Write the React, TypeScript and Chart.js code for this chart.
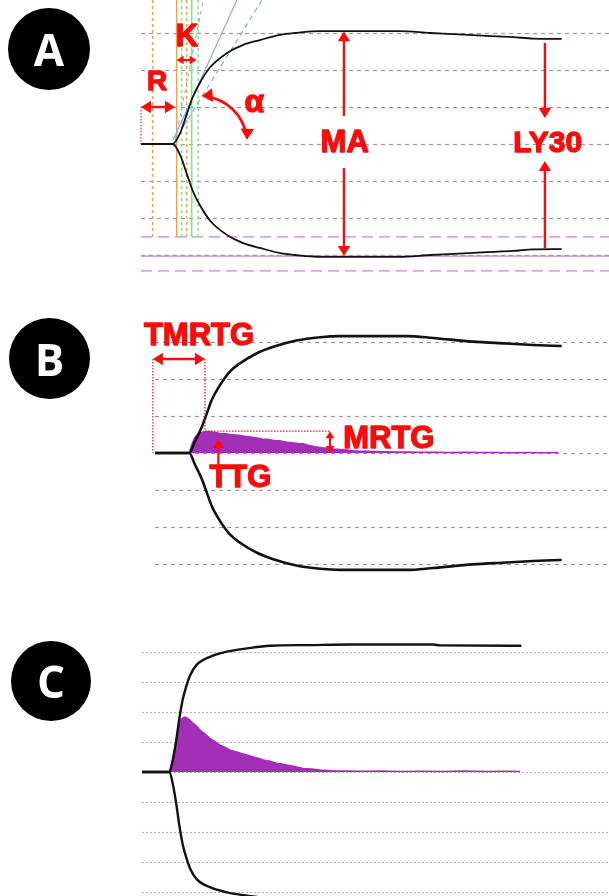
import { useEffect, useRef } from "react";
import { Chart, registerables } from "chart.js";

Chart.register(...registerables);

// ---------------- data (time in minutes, amplitude in mm) ----------------
// Panel A – TEG trace
const A_TIME = [0, 4.5, 5.6, 6.6, 7.4, 8.4, 9.9, 12.3, 14.6, 17.0, 19.9, 22.0, 25.6, 37.0, 41.3, 44.6, 49.4, 53.1, 56.0, 60.1];
const A_AMP = [0, 0, 3.0, 8.4, 12.7, 16.5, 20.8, 24.6, 26.8, 28.1, 29.5, 30.0, 30.5, 30.5, 30.0, 29.7, 29.2, 28.9, 28.5, 28.4];
const A_GRID = [-30, -20, -10, 0, 10, 20, 30];
const A_PINK_DASHED = [-25.1, -34.3];
const A_PINK_SOLID = [-30.3];
const A_R_DOTTED = [1.67, 6.52];
const A_R_SOLID = [5.1];
const A_K_DOTTED = [5.81, 8.19];
const A_K_SOLID = [7.24];

// Panel B – TEG trace + thrombin generation
const B_TIME = [0, 4.9, 5.7, 6.7, 7.4, 8.1, 9.3, 10.7, 12.1, 14.5, 16.9, 20.2, 23.6, 26.4, 36.0, 39.7, 45.4, 50.2, 54.0, 58.1];
const B_AMP = [0, 0, 3.1, 7.1, 10.7, 14.3, 18.4, 22.0, 24.2, 26.9, 28.7, 30.4, 31.3, 31.6, 31.6, 31.1, 30.1, 29.6, 29.2, 28.9];
const B_TG_TIME = [4.9, 5.3, 5.7, 6.2, 6.9, 7.6, 8.4, 9.3, 10.2, 11.0, 11.9, 12.8, 13.6, 14.4, 15.3, 16.1, 17.0, 17.8, 18.7, 19.5, 20.4, 21.2, 22.1, 22.9, 23.8, 24.6, 25.5, 26.4, 27.4, 28.3, 29.4, 30.4, 31.6, 33.0, 34.5, 36.2, 38.0, 40.0, 42.1, 44.3, 46.5, 48.8, 51.0, 53.3, 55.5, 57.6];
const B_TG = [0, 2.5, 4.2, 5.2, 5.7, 5.8, 5.6, 5.3, 5.2, 4.9, 4.8, 4.5, 4.3, 4.1, 3.8, 3.7, 3.4, 3.3, 3.0, 2.8, 2.6, 2.5, 2.0, 1.7, 1.45, 1.3, 1.1, 0.95, 0.8, 0.6, 0.5, 0.45, 0.4, 0.35, 0.3, 0.25, 0.2, 0.22, 0.15, 0.18, 0.12, 0.15, 0.1, 0.14, 0.1, 0.12];
const B_GRID = [-30, -20, -10, 0, 10, 20, 30];

// Panel C – TEG trace + thrombin generation
const C_TIME = [0, 3.9, 4.4, 4.9, 5.3, 5.8, 6.3, 6.9, 7.8, 9.7, 12.1, 15.0, 18.3, 23.5, 29.7, 41.6, 42.6, 54.2];
const C_AMP = [0, 0, 4.0, 10.7, 17.3, 24.0, 28.4, 32.3, 35.7, 38.4, 40.1, 41.2, 42.1, 42.3, 42.5, 42.5, 42.2, 42.1];
const C_TG_TIME = [3.9, 4.4, 4.9, 5.3, 5.6, 5.9, 6.2, 6.5, 6.9, 7.3, 7.8, 8.3, 8.9, 9.7, 10.4, 11.1, 11.9, 12.6, 13.4, 14.2, 15.0, 15.8, 16.6, 17.3, 18.3, 19.2, 20.0, 20.7, 21.8, 23.0, 24.2, 25.4, 26.6, 27.8, 29.5, 31.5, 34.0, 37.0, 40.0, 43.0, 46.0, 49.0, 52.0, 54.0];
const C_TG = [0, 4.0, 10.7, 15.0, 17.5, 18.2, 18.3, 17.9, 17.2, 16.2, 15.3, 14.0, 12.9, 11.2, 10.2, 9.0, 8.2, 7.3, 6.8, 6.2, 5.7, 5.1, 4.6, 4.0, 3.6, 2.9, 2.7, 2.3, 1.8, 1.2, 1.0, 0.7, 0.5, 0.3, 0.35, 0.25, 0.3, 0.2, 0.25, 0.15, 0.3, 0.2, 0.25, 0.2];
const C_GRID = [-40, -30, -20, -10, 0, 10, 20, 30, 40];

// ---------------- styles ----------------
const RED = "#ff0a0a";
const PURPLE = "#a22fb5";
const GRID = "#9a9a9a";
const PINK = "#dca0ec";
const ORANGE = "#f7a43a";
const GREEN = "#86e486";
const BLUE = "#80a8f5";
const FONT = "'Liberation Sans', Arial, sans-serif";

// ---------------- drawing helpers ----------------
function line(ctx: any, x1: number, y1: number, x2: number, y2: number, color: string, dash: number[], width: number) {
  ctx.save();
  ctx.strokeStyle = color;
  ctx.setLineDash(dash);
  ctx.lineWidth = width;
  ctx.beginPath();
  ctx.moveTo(x1, y1);
  ctx.lineTo(x2, y2);
  ctx.stroke();
  ctx.restore();
}

function head(ctx: any, x: number, y: number, ang: number, size: number) {
  ctx.save();
  ctx.translate(x, y);
  ctx.rotate(ang);
  ctx.beginPath();
  ctx.moveTo(0, 0);
  ctx.lineTo(-size, -size * 0.62);
  ctx.lineTo(-size, size * 0.62);
  ctx.closePath();
  ctx.fill();
  ctx.restore();
}

function arrow(ctx: any, x1: number, y1: number, x2: number, y2: number, hs: boolean, he: boolean, size = 10, width = 2.4) {
  const ang = Math.atan2(y2 - y1, x2 - x1);
  const c = Math.cos(ang), s = Math.sin(ang);
  const sx = hs ? x1 + c * size * 0.8 : x1;
  const sy = hs ? y1 + s * size * 0.8 : y1;
  const ex = he ? x2 - c * size * 0.8 : x2;
  const ey = he ? y2 - s * size * 0.8 : y2;
  ctx.save();
  ctx.strokeStyle = RED;
  ctx.fillStyle = RED;
  ctx.lineWidth = width;
  ctx.setLineDash([]);
  ctx.beginPath();
  ctx.moveTo(sx, sy);
  ctx.lineTo(ex, ey);
  ctx.stroke();
  if (he) head(ctx, x2, y2, ang, size);
  if (hs) head(ctx, x1, y1, ang + Math.PI, size);
  ctx.restore();
}

function label(ctx: any, text: string, x: number, y: number, size: number) {
  ctx.save();
  ctx.fillStyle = RED;
  ctx.strokeStyle = RED;
  ctx.lineWidth = 1.3;
  ctx.lineJoin = "round";
  ctx.font = `bold ${size}px ${FONT}`;
  ctx.textAlign = "center";
  ctx.textBaseline = "alphabetic";
  ctx.fillText(text, x, y);
  ctx.strokeText(text, x, y);
  ctx.restore();
}

function grid(chart: any, values: number[], dash: number[], color: string, width: number) {
  const { ctx, chartArea: ca, scales } = chart;
  values.forEach((v) => {
    const py = Math.round(scales.y.getPixelForValue(v)) + 0.5;
    line(ctx, ca.left, py, ca.right, py, color, dash, width);
  });
}

// ---------------- plugins ----------------
const pluginA = {
  id: "panelA",
  beforeDatasetsDraw(chart: any) {
    const { ctx, chartArea: ca, scales } = chart;
    const X = (t: number) => scales.x.getPixelForValue(t);
    const Y = (v: number) => scales.y.getPixelForValue(v);
    A_PINK_DASHED.forEach((v) => line(ctx, ca.left, Y(v), ca.right, Y(v), PINK, [11, 6], 1.6));
    A_PINK_SOLID.forEach((v) => line(ctx, ca.left, Y(v), ca.right, Y(v), PINK, [], 1.6));
    grid(chart, A_GRID, [4, 4], GRID, 1.2);
    const bottom = Y(-25.1);
    A_R_DOTTED.forEach((t) => line(ctx, X(t), ca.top, X(t), bottom, ORANGE, [3, 3], 1.6));
    A_R_SOLID.forEach((t) => line(ctx, X(t), ca.top, X(t), bottom, ORANGE, [], 1.6));
    A_K_DOTTED.forEach((t) => line(ctx, X(t), ca.top, X(t), bottom, GREEN, [3, 3], 1.6));
    A_K_SOLID.forEach((t) => line(ctx, X(t), ca.top, X(t), bottom, GREEN, [], 1.6));
    // alpha tangents
    line(ctx, X(4.6), Y(1.1), X(13.7), Y(38.9), BLUE, [], 1.2);
    line(ctx, X(6.0), Y(4.6), X(17.3), Y(38.9), BLUE, [5, 4], 1.2);
    line(ctx, X(4.9), Y(1.1), X(8.9), Y(38.9), BLUE, [4, 4], 1);
  },
  afterDatasetsDraw(chart: any) {
    const { ctx, scales } = chart;
    const X = (t: number) => scales.x.getPixelForValue(t);
    const Y = (v: number) => scales.y.getPixelForValue(v);
    // R
    line(ctx, X(0), Y(10), X(0), Y(0), RED, [1.5, 1.5], 1);
    arrow(ctx, X(0), Y(10), X(4.86), Y(10), true, true);
    label(ctx, "R", X(2.29), Y(14.6), 28);
    // K
    arrow(ctx, X(5.09), Y(22.7), X(7.95), Y(22.7), true, true, 7, 2);
    label(ctx, "K", X(6.57), Y(26.6), 31);
    // alpha arc
    const cx = X(8.43), cy = Y(0.27), r = 47;
    const a0 = (-88 * Math.PI) / 180, a1 = (-4 * Math.PI) / 180;
    ctx.save();
    ctx.strokeStyle = RED;
    ctx.fillStyle = RED;
    ctx.lineWidth = 2.8;
    ctx.beginPath();
    ctx.arc(cx, cy, r, a0 + 0.12, a1 - 0.12);
    ctx.stroke();
    head(ctx, cx + r * Math.cos(a0), cy + r * Math.sin(a0), a0 - Math.PI / 2 - 0.12, 11);
    head(ctx, cx + r * Math.cos(a1), cy + r * Math.sin(a1), a1 + Math.PI / 2 + 0.12, 11);
    ctx.restore();
    label(ctx, "α", X(16.2), Y(8.6), 32);
    // MA
    arrow(ctx, X(29.0), Y(7.57), X(29.0), Y(30.5), false, true);
    arrow(ctx, X(29.0), Y(-6.5), X(29.0), Y(-30.3), false, true);
    label(ctx, "MA", X(29.1), Y(-2.16), 31);
    // LY30
    arrow(ctx, X(57.7), Y(27.3), X(57.7), Y(7.0), false, true);
    arrow(ctx, X(57.7), Y(-28.1), X(57.7), Y(-4.6), false, true);
    label(ctx, "LY30", X(58.1), Y(-2.16), 30);
  },
};

const pluginB = {
  id: "panelB",
  beforeDatasetsDraw(chart: any) {
    grid(chart, B_GRID, [4, 4], GRID, 1.2);
  },
  afterDatasetsDraw(chart: any) {
    const { ctx, scales } = chart;
    const X = (t: number) => scales.x.getPixelForValue(t);
    const Y = (v: number) => scales.y.getPixelForValue(v);
    // TMRTG
    line(ctx, X(-0.3), Y(25.4), X(-0.3), Y(0), RED, [1.5, 1.5], 1.2);
    line(ctx, X(7.14), Y(25.4), X(7.14), Y(5.9), RED, [1.5, 1.5], 1.2);
    arrow(ctx, X(-0.3), Y(25.4), X(7.14), Y(25.4), true, true);
    label(ctx, "TMRTG", X(6.29), Y(29.2), 31);
    // MRTG
    line(ctx, X(7.14), Y(5.9), X(25.0), Y(5.9), RED, [1.5, 1.5], 1.2);
    arrow(ctx, X(25.0), Y(5.9), X(25.0), Y(0), true, true, 7, 2);
    label(ctx, "MRTG", X(33.4), Y(1.35), 31);
    // TTG
    arrow(ctx, X(9.05), Y(-3.5), X(9.05), Y(3.8), false, true, 9, 2.2);
    label(ctx, "TTG", X(12.2), Y(-9.2), 31);
  },
};

const pluginC = {
  id: "panelC",
  beforeDatasetsDraw(chart: any) {
    grid(chart, C_GRID, [2, 2], "#b4b4b4", 1.2);
  },
};

// ---------------- chart config builder ----------------
function buildConfig(p: any) {
  const datasets: any[] = [
    {
      data: p.time.map((t: number, i: number) => ({ x: t, y: p.amp[i] })),
      borderColor: "#111",
      borderWidth: p.width,
      pointRadius: 0,
      fill: false,
      cubicInterpolationMode: "monotone",
    },
    {
      data: p.time.map((t: number, i: number) => ({ x: t, y: -p.amp[i] })),
      borderColor: "#111",
      borderWidth: p.width,
      pointRadius: 0,
      fill: false,
      cubicInterpolationMode: "monotone",
    },
  ];
  if (p.tgTime) {
    datasets.push({
      data: p.tgTime.map((t: number, i: number) => ({ x: t, y: p.tg[i] })),
      borderColor: PURPLE,
      backgroundColor: PURPLE,
      borderWidth: 1.5,
      pointRadius: 0,
      fill: "origin",
      tension: 0,
    });
  }
  return {
    type: "line",
    data: { datasets },
    options: {
      responsive: false,
      animation: false,
      devicePixelRatio: 1,
      events: [],
      layout: { padding: { left: p.padLeft, right: 0, top: 0, bottom: 0 } },
      plugins: { legend: { display: false }, tooltip: { enabled: false } },
      scales: {
        x: { type: "linear", min: 0, max: p.xMax, display: false },
        y: { type: "linear", min: p.yMin, max: p.yMax, display: false },
      },
    },
    plugins: [p.plugin],
  };
}

function Panel({ top, height, build }: { top: number; height: number; build: () => any }) {
  const ref = useRef<HTMLCanvasElement>(null);
  useEffect(() => {
    const chart = new Chart(ref.current as HTMLCanvasElement, build());
    return () => chart.destroy();
  }, []);
  return (
    <canvas
      ref={ref}
      width={609}
      height={height}
      style={{ position: "absolute", left: 0, top, width: 609, height }}
    />
  );
}

function Badge({ letter, cx, cy, r }: { letter: string; cx: number; cy: number; r: number }) {
  return (
    <div
      style={{
        position: "absolute",
        left: cx - r,
        top: cy - r,
        width: 2 * r,
        height: 2 * r,
        borderRadius: "50%",
        background: "#000",
        color: "#fff",
        display: "flex",
        alignItems: "center",
        justifyContent: "center",
        fontFamily: "'Open Sans', Arial, sans-serif",
        fontWeight: 700,
        fontSize: 44,
        lineHeight: 1,
        zIndex: 2,
      }}
    >
      {letter}
    </div>
  );
}

export default function App() {
  return (
    <div style={{ position: "absolute", left: 0, top: 0, width: 609, height: 896, background: "#fff", overflow: "hidden" }}>
      <Panel
        top={0}
        height={288}
        build={() =>
          buildConfig({ time: A_TIME, amp: A_AMP, width: 1.8, padLeft: 141, xMax: 468 / 7, yMin: -144 / 3.7, yMax: 144 / 3.7, plugin: pluginA })
        }
      />
      <Panel
        top={290}
        height={326}
        build={() =>
          buildConfig({ time: B_TIME, amp: B_AMP, tgTime: B_TG_TIME, tg: B_TG, width: 2.6, padLeft: 155, xMax: 454 / 7, yMin: -163 / 3.7, yMax: 163 / 3.7, plugin: pluginB })
        }
      />
      <Panel
        top={616}
        height={280}
        build={() =>
          buildConfig({ time: C_TIME, amp: C_AMP, tgTime: C_TG_TIME, tg: C_TG, width: 2.4, padLeft: 142, xMax: 467 / 7, yMin: -124 / 3, yMax: 156 / 3, plugin: pluginC })
        }
      />
      <Badge letter="A" cx={49} cy={49} r={41} />
      <Badge letter="B" cx={49.5} cy={358.5} r={40.5} />
      <Badge letter="C" cx={51} cy={681} r={40} />
    </div>
  );
}
